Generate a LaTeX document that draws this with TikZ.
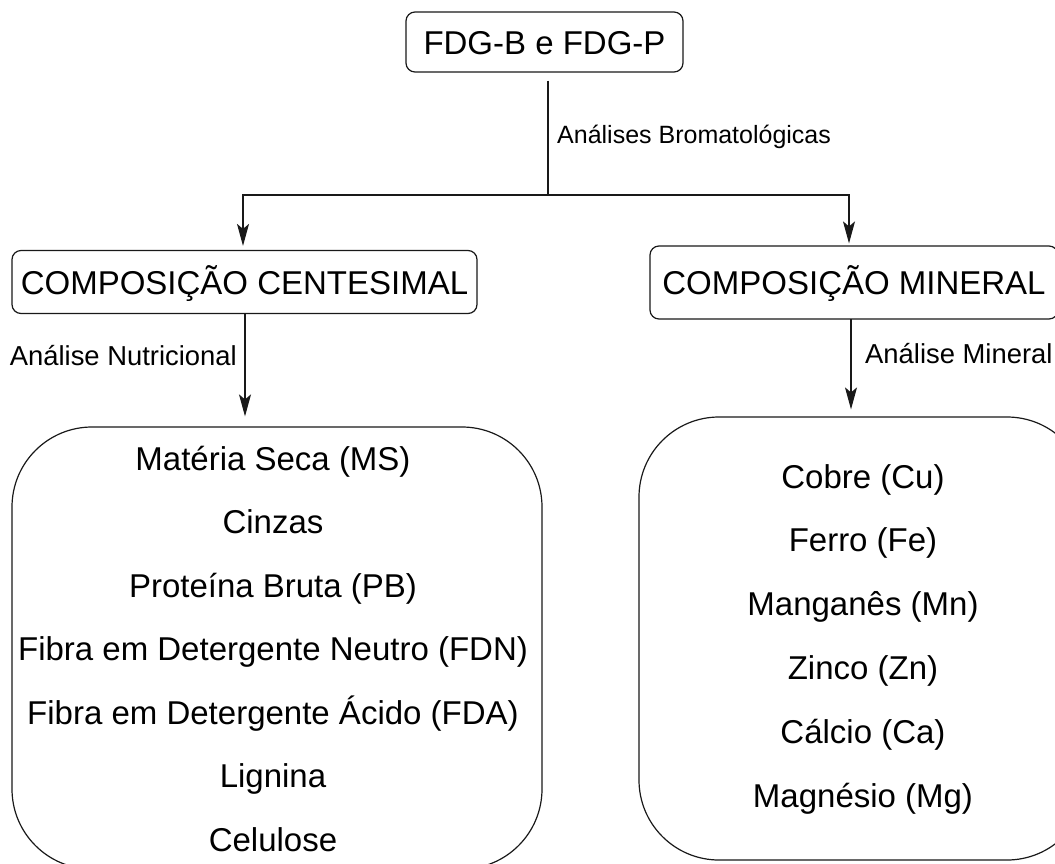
\documentclass[tikz,border=0pt]{standalone}
\usepackage{fontspec}
\setmainfont{Liberation Sans}
\usetikzlibrary{arrows.meta}
\tikzset{
  ln/.style={line width=1.2pt, draw=black!90},
  arr/.style={ln, -{Stealth[length=22pt,width=12pt,inset=5pt]}},
  smallbox/.style={ln, draw, rounded corners=9pt, inner sep=0pt,
    font=\fontsize{33}{40}\selectfont, text height=24pt, text depth=0pt},
  bigbox/.style={ln, draw, rounded corners=80pt, inner sep=0pt},
  item/.style={anchor=base, inner sep=0pt, font=\fontsize{33}{40}\selectfont},
  lbl/.style={inner sep=0pt, font=\fontsize{25}{30}\selectfont},
  lblb/.style={inner sep=0pt, font=\fontsize{27.4}{32}\selectfont},
}
\begin{document}
\begin{tikzpicture}[x=1pt,y=-1pt]
\useasboundingbox (0,0) rectangle (1055,863);
% boxes
\node[smallbox, minimum width=277pt, minimum height=60pt] (top) at (544.5,42) {FDG-B e FDG-P};
\node[smallbox, minimum width=465pt, minimum height=63pt] (LC) at (244.5,282) {COMPOSIÇÃO CENTESIMAL};
\node[smallbox, minimum width=408pt, minimum height=73pt] (RC) at (854,282.5) {COMPOSIÇÃO MINERAL};
\node[bigbox, minimum width=530pt, minimum height=442pt] (LB) at (277,648) {};
\node[bigbox, minimum width=448pt, minimum height=443pt] (RB) at (863,638.5) {};
% list items
\foreach \t [count=\i] in {Matéria Seca (MS),Cinzas,Proteína Bruta (PB),Fibra em Detergente Neutro (FDN),Fibra em Detergente Ácido (FDA),Lignina,Celulose}
  \node[item] (l\i) at (273,{470+63.5*(\i-1)}) {\t};
\foreach \t [count=\i] in {Cobre (Cu),Ferro (Fe),Manganês (Mn),Zinco (Zn),Cálcio (Ca),Magnésio (Mg)}
  \node[item] (r\i) at (863,{488+63.8*(\i-1)}) {\t};
% connectors
\coordinate (j) at (548,195);
\draw[ln] ([yshift=-8pt]top.south -| j) -- (j);
\node[lbl, anchor=base west] (labB) at (557,143) {Análises Bromatológicas};
\draw[arr, shorten >=4pt] (j) -| ([xshift=-1.5pt]LC.north);
\draw[arr, shorten >=2pt] (j) -| ([xshift=-5pt]RC.north);
\coordinate (ls) at (245,313);
\draw[arr, shorten >=10pt] (ls) -- (ls |- LB.north);
\node[lblb, anchor=base east] (labN) at (237,365) {Análise Nutricional};
\coordinate (rs) at (851,319);
\draw[arr, shorten >=7pt] (rs) -- (rs |- RB.north);
\node[lblb, anchor=base west] (labM) at (865,363) {Análise Mineral};
\end{tikzpicture}
\end{document}
